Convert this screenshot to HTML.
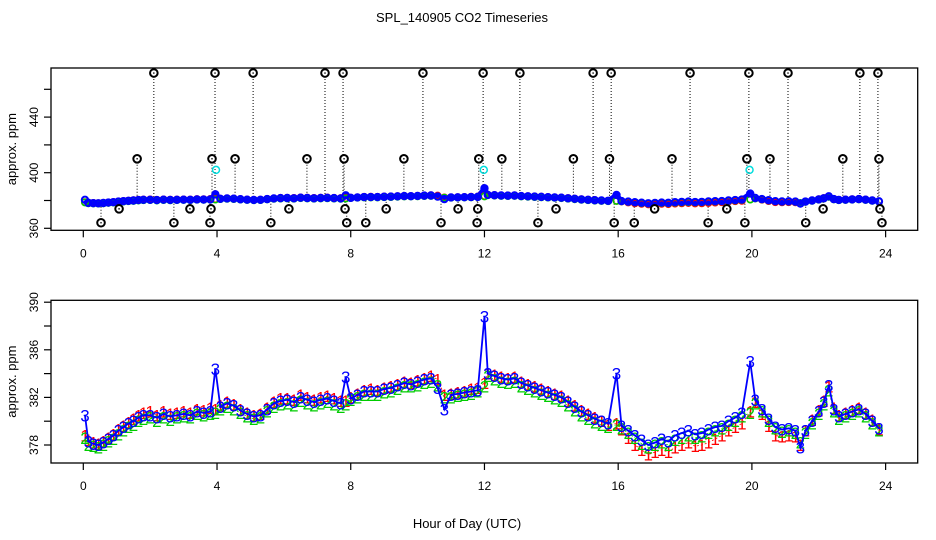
<!DOCTYPE html>
<html><head><meta charset="utf-8">
<style>
html,body{margin:0;padding:0;background:#fff;}
svg{display:block;font-family:"Liberation Sans",sans-serif;}
</style></head>
<body>
<svg id="chart" width="936" height="540" viewBox="0 0 936 540" xmlns="http://www.w3.org/2000/svg">
<rect width="936" height="540" fill="#fff"/>
<text x="462" y="22" font-size="13" text-anchor="middle">SPL_140905  CO2 Timeseries</text>
<text x="467" y="528" font-size="13" text-anchor="middle">Hour of Day (UTC)</text>
<g id="topPanel"></g>
<g id="botPanel"></g>
</svg>
<script>
const hours=[0.05,0.15,0.3,0.45,0.6,0.75,0.9,1.05,1.2,1.35,1.5,1.65,1.8,2.0,2.2,2.4,2.6,2.8,3.0,3.2,3.4,3.6,3.8,3.95,4.1,4.3,4.5,4.7,4.9,5.1,5.3,5.5,5.7,5.9,6.1,6.3,6.5,6.7,6.9,7.1,7.3,7.5,7.7,7.85,8.0,8.2,8.4,8.6,8.8,9.0,9.2,9.4,9.6,9.8,10.0,10.2,10.4,10.6,10.8,11.0,11.2,11.4,11.6,11.8,12.0,12.1,12.3,12.5,12.7,12.9,13.1,13.3,13.5,13.7,13.9,14.1,14.3,14.5,14.7,14.9,15.1,15.3,15.5,15.7,15.95,16.1,16.3,16.5,16.7,16.9,17.1,17.3,17.5,17.7,17.9,18.1,18.3,18.5,18.7,18.9,19.1,19.3,19.5,19.7,19.95,20.1,20.3,20.5,20.7,20.9,21.1,21.3,21.45,21.6,21.8,22.0,22.15,22.3,22.45,22.6,22.8,23.0,23.2,23.4,23.6,23.8];
const series3=[380.5,378.3,378.1,378.0,378.2,378.5,378.8,379.2,379.5,379.8,380.0,380.3,380.5,380.5,380.3,380.6,380.4,380.5,380.6,380.5,380.8,380.7,380.8,384.4,381.2,381.5,381.3,380.9,380.6,380.4,380.5,381.0,381.5,381.7,381.8,381.6,382.0,381.8,381.6,381.8,381.9,381.7,381.5,383.7,381.9,382.2,382.5,382.5,382.5,382.7,382.8,383.0,383.2,383.1,383.3,383.5,383.6,382.8,381.0,382.2,382.3,382.4,382.5,382.6,388.8,384.0,383.8,383.6,383.5,383.6,383.2,383.0,382.8,382.6,382.4,382.2,382.0,381.6,381.2,380.8,380.5,380.2,380.0,379.8,384.0,379.6,379.2,378.8,378.4,378.0,378.2,378.5,378.3,378.8,379.0,379.2,378.9,379.0,379.3,379.5,379.6,380.0,380.3,380.7,385.0,381.8,381.0,380.2,379.5,379.3,379.4,379.2,377.8,379.2,380.0,380.8,381.6,383.0,381.0,380.4,380.6,380.8,381.0,380.6,380.0,379.4];
const series2=[378.6,378.0,377.9,377.8,378.0,378.3,378.5,378.9,379.2,379.5,379.7,380.0,380.2,380.3,380.0,380.3,380.1,380.3,380.4,380.3,380.6,380.5,380.6,380.7,381.0,381.2,381.0,380.7,380.4,380.2,380.3,380.8,381.2,381.4,381.5,381.3,381.7,381.5,381.3,381.5,381.6,381.4,381.2,381.4,381.8,382.0,382.2,382.2,382.2,382.4,382.5,382.7,382.9,382.9,383.0,383.2,383.3,383.0,382.0,382.0,382.1,382.2,382.3,382.5,382.9,383.8,383.5,383.3,383.2,383.3,382.9,382.7,382.5,382.3,382.1,381.9,381.7,381.3,380.9,380.5,380.2,379.9,379.7,379.5,379.7,379.4,379.0,378.6,378.1,377.8,378.0,378.2,378.0,378.4,378.6,378.8,378.6,378.7,379.0,379.2,379.4,379.7,380.0,380.4,380.7,381.5,380.8,380.0,379.4,379.1,379.2,379.0,378.2,379.0,379.8,380.6,381.4,382.6,380.8,380.2,380.4,380.6,380.8,380.4,379.8,379.2];
const series1=[378.8,378.4,378.2,378.1,378.3,378.6,378.9,379.3,379.6,379.9,380.2,380.5,380.7,380.8,380.5,380.8,380.6,380.7,380.8,380.7,381.0,380.9,381.1,381.0,381.3,381.6,381.4,381.0,380.7,380.5,380.6,381.1,381.6,381.9,381.9,381.8,382.2,382.0,381.8,382.0,382.1,381.9,381.7,381.7,382.0,382.3,382.6,382.7,382.6,382.8,382.9,383.1,383.3,383.2,383.4,383.6,383.8,383.5,382.2,382.3,382.4,382.5,382.7,382.8,383.2,384.0,383.9,383.7,383.6,383.7,383.3,383.1,382.9,382.7,382.5,382.3,382.1,381.7,381.3,380.9,380.6,380.3,380.0,379.7,379.8,379.3,378.6,378.0,377.6,377.2,377.4,377.6,377.4,377.8,378.0,378.2,377.9,378.0,378.2,378.5,378.8,379.2,379.5,379.8,380.8,381.6,380.6,379.6,378.8,378.7,378.8,378.7,378.0,379.2,380.1,380.9,381.7,382.9,381.1,380.5,380.7,380.9,381.1,380.7,380.1,379.3];
const outlierHours=[2.11,3.94,5.08,7.23,7.77,10.16,11.96,13.06,15.25,15.79,18.15,19.91,21.08,23.23,23.77,1.61,3.85,4.54,6.69,7.80,9.59,11.83,12.52,14.66,15.74,17.61,19.85,20.54,22.72,23.80,1.07,3.19,3.82,6.15,7.83,9.06,11.21,11.80,14.14,17.09,19.25,22.13,23.83,0.53,2.71,3.79,5.61,7.88,8.45,10.70,11.78,13.60,15.88,16.48,18.69,19.79,21.61,23.89];
const outlierValues=[471.7,471.7,471.7,471.7,471.7,471.7,471.7,471.7,471.7,471.7,471.7,471.7,471.7,471.7,471.7,410,410,410,410,410,410,410,410,410,410,410,410,410,410,410,374,374,374,374,374,374,374,374,374,374,374,374,374,364,364,364,364,364,364,364,364,364,364,364,364,364,364,364];
const calHours=[3.97,11.98,19.93];
const calValues=[402,402,402];
const xTicks=[0,4,8,12,16,20,24];
const topYTicks=[360,380,400,420,440,460];
const topYLabels=[360,400,440];
const botYTicks=[378,380,382,384,386,388,390];
const botYLabels=[378,382,386,390];

const NS="http://www.w3.org/2000/svg";
function mk(tag,attrs,parent,txt){const e=document.createElementNS(NS,tag);for(const k in attrs)e.setAttribute(k,attrs[k]);if(txt!==undefined)e.textContent=txt;parent.appendChild(e);return e;}
const L=51,R=917.7;
const xs=h=>83.3+h*33.43;
const yTop=v=>228.3-(v-360)*1.39;
const yBot=v=>445-(v-378)*11.9;

function axes(g,y0,y1,yf,yt,yl,name){
  const box=mk('rect',{x:L,y:y0,width:R-L,height:y1-y0,fill:'none',stroke:'#000','stroke-width':1.3},g);
  
  
  const xa=mk('g',{},g);
  
  
  xTicks.forEach(t=>{
    mk('line',{x1:xs(t),x2:xs(t),y1:y1,y2:y1+7,stroke:'#000','stroke-width':1.2},xa);
    const tx=mk('text',{x:xs(t),y:y1+27,'font-size':12,'text-anchor':'middle'},xa,String(t));
    
    
  });
  const ya=mk('g',{},g);
  
  
  yt.forEach(t=>{mk('line',{x1:L-7,x2:L,y1:yf(t),y2:yf(t),stroke:'#000','stroke-width':1.2},ya);});
  yl.forEach(t=>{
    const tx=mk('text',{x:0,y:0,'font-size':12,'text-anchor':'middle',transform:`translate(${L-13},${yf(t)}) rotate(-90)`},ya,String(t));
    
    
  });
  const yt2=mk('text',{x:0,y:0,'font-size':13,'text-anchor':'middle',transform:`translate(16,${(y0+y1)/2}) rotate(-90)`},g,'approx. ppm');
  
  
}

// TOP panel
const topG=document.getElementById('topPanel');


axes(topG,68,230.3,yTop,topYTicks,topYLabels,'top');
const tg=mk('g',{},topG);


outlierHours.forEach((h,i)=>{
  let j=0;let best=99;hours.forEach((hh,k)=>{if(Math.abs(hh-h)<best){best=Math.abs(hh-h);j=k;}});
  const base=yTop(series3[j]);
  mk('line',{x1:xs(h),x2:xs(h),y1:yTop(outlierValues[i]),y2:base,stroke:'#000','stroke-width':1,'stroke-dasharray':'1 2'},tg);
});
const band=mk('polyline',{points:hours.map((h,i)=>xs(h)+','+yTop(series3[i])).join(' '),fill:'none',stroke:'#00f','stroke-width':5},tg);


[series1,series2,series3].forEach((s,si)=>{
  const col=['#f00','#0c0','#00f'][si];
  s.forEach((v,i)=>{
    const c=mk('circle',{cx:xs(hours[i]),cy:yTop(v),r:3.2,fill:'none',stroke:col,'stroke-width':si==2?2:1.5},tg);
    
    
  });
});
calHours.forEach((h,i)=>{
  const c=mk('circle',{cx:xs(h),cy:yTop(calValues[i]),r:3.5,fill:'none',stroke:'#0dd','stroke-width':1.5},tg);
  
  
});
outlierHours.forEach((h,i)=>{
  const c=mk('circle',{cx:xs(h),cy:yTop(outlierValues[i]),r:3.8,fill:'#fff',stroke:'#000','stroke-width':2},tg);
  
  
  mk('circle',{cx:xs(h),cy:yTop(outlierValues[i]),r:0.8,fill:'#000'},tg);
});

// BOTTOM panel
const botG=document.getElementById('botPanel');


axes(botG,300.3,463,yBot,botYTicks,botYLabels,'bottom');
[series1,series2,series3].forEach((s,si)=>{
  const col=['#f00','#0c0','#00f'][si];
  const g=mk('g',{},botG);
  
  
  const pl=mk('polyline',{points:hours.map((h,i)=>xs(h)+','+yBot(s[i])).join(' '),fill:'none',stroke:col,'stroke-width':si==2?1.8:0.8,'stroke-dasharray':si==2?'none':'2 2'},g);
  
  
  s.forEach((v,i)=>{
    const t=mk('text',{x:xs(hours[i]),y:yBot(v)+6,'font-size':17,'text-anchor':'middle',fill:col},g,String(si+1));
    
    
  });
});
</script>
</body></html>
